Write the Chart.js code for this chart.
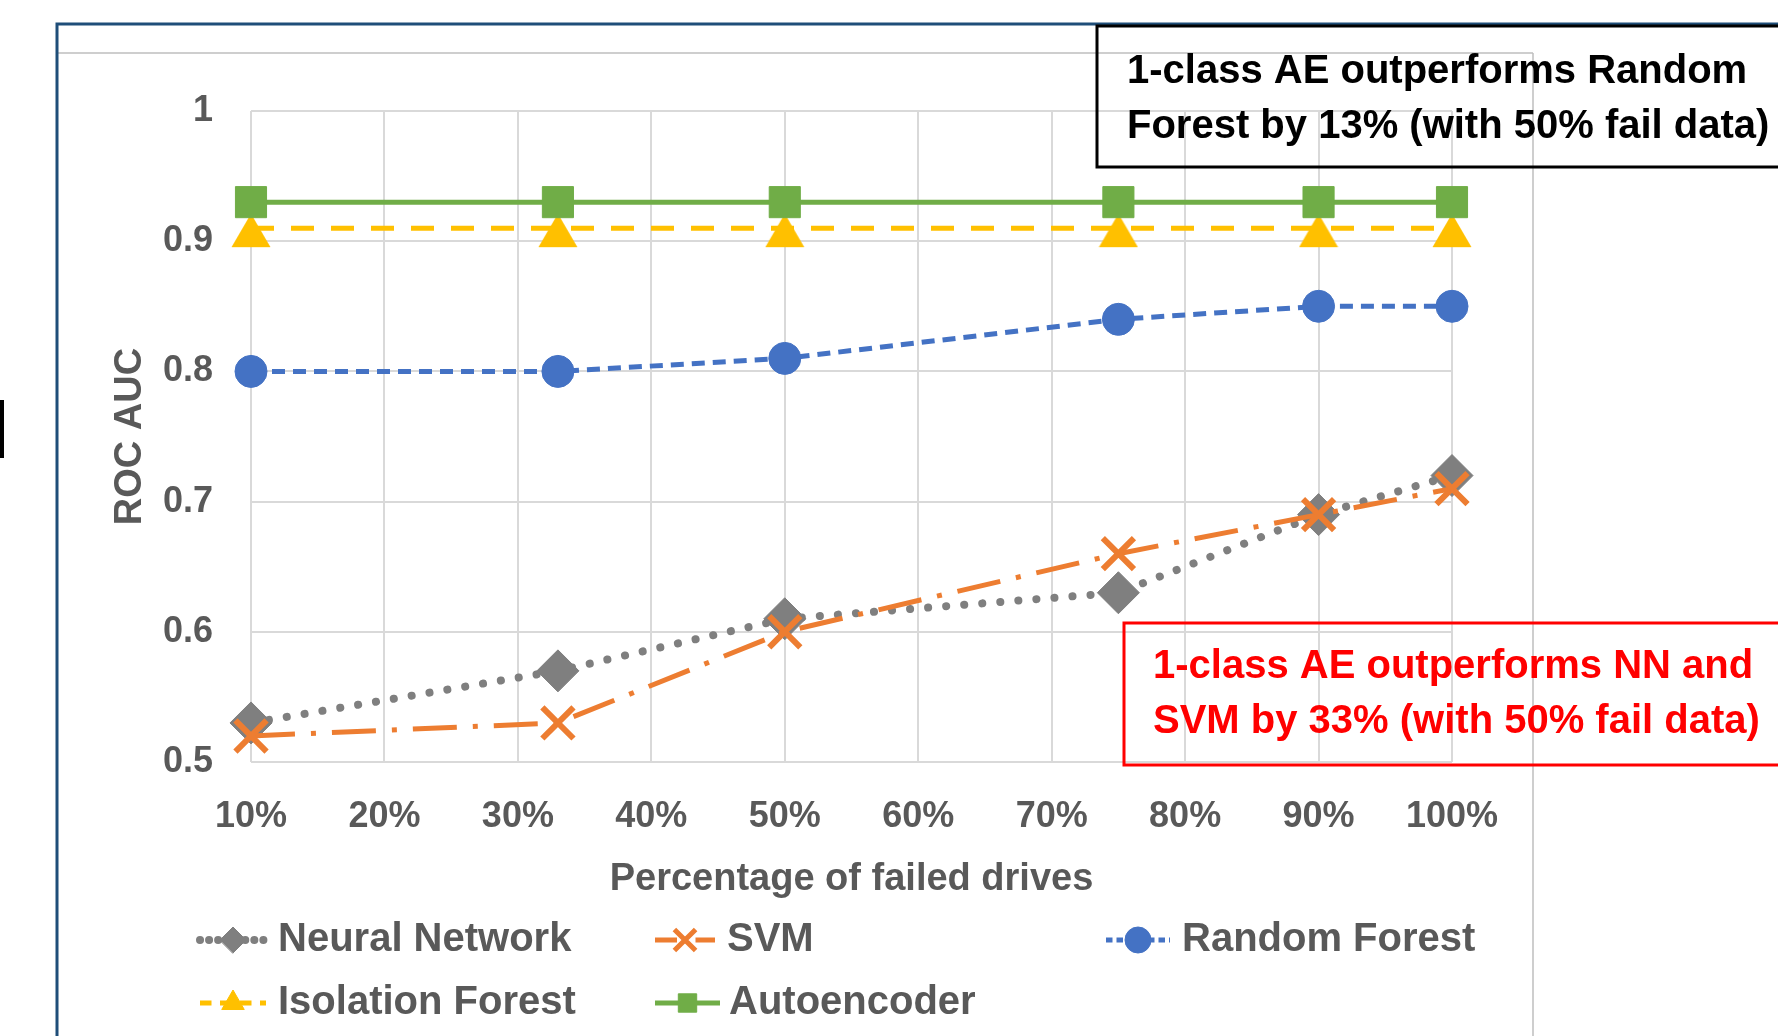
<!DOCTYPE html>
<html>
<head>
<meta charset="utf-8">
<script src="https://cdn.jsdelivr.net/npm/chart.js@4.4.0/dist/chart.umd.min.js"></script>
<style>
  html, body { margin: 0; padding: 0; background: #fff; overflow: hidden; }
</style>
</head>
<body>
<canvas id="chart" width="1778" height="1036"></canvas>
<script>
// values
const failedPct = [10, 33, 50, 75, 90, 100];
const neuralNetwork = [0.53, 0.57, 0.61, 0.63, 0.69, 0.72];
const svm = [0.52, 0.53, 0.60, 0.66, 0.69, 0.71];
const randomForest = [0.80, 0.80, 0.81, 0.84, 0.85, 0.85];
const isolationForest = [0.91, 0.91, 0.91, 0.91, 0.91, 0.91];
const autoencoder = [0.93, 0.93, 0.93, 0.93, 0.93, 0.93];
const xTicks = [10, 20, 30, 40, 50, 60, 70, 80, 90, 100];
const seriesNames = ['Neural Network', 'SVM', 'Random Forest', 'Isolation Forest', 'Autoencoder'];
const noteBlack = ['1-class AE outperforms Random', 'Forest by 13% (with 50% fail data)'];
const noteRed = ['1-class AE outperforms NN and', 'SVM by 33% (with 50% fail data)'];

const FONT = '"Liberation Sans", Arial, sans-serif';
const GREY = '#595959';

const pts = vals => failedPct.map((x, i) => ({ x, y: vals[i] }));

// Excel hangs its triangle marker below the line, so build it as an image
function hangingTriangle(color) {
  const c = document.createElement('canvas');
  c.width = 40;
  c.height = 40;
  const g = c.getContext('2d');
  g.fillStyle = color;
  g.beginPath();
  g.moveTo(20, 5.5);
  g.lineTo(39.5, 39);
  g.lineTo(0.5, 39);
  g.closePath();
  g.fill();
  return c;
}

function line(label, vals, color, extra) {
  return Object.assign({
    label,
    data: pts(vals),
    borderColor: color,
    backgroundColor: color,
    pointBackgroundColor: color,
    pointBorderColor: color,
    borderWidth: 5,
    pointBorderWidth: 1,
    tension: 0,
    clip: false
  }, extra);
}

const datasets = [
  line(seriesNames[0], neuralNetwork, '#7F7F7F', {
    borderWidth: 8, borderDash: [0.1, 18], borderCapStyle: 'round',
    pointStyle: 'rectRot', pointRadius: 21, order: 5
  }),
  line(seriesNames[1], svm, '#ED7D31', {
    borderDash: [44, 16, 5, 16],
    pointStyle: 'crossRot', pointRadius: 22, pointBorderWidth: 6, order: 4
  }),
  line(seriesNames[2], randomForest, '#4472C4', {
    borderDash: [13, 8],
    pointStyle: 'circle', pointRadius: 16, order: 3
  }),
  line(seriesNames[3], isolationForest, '#FFC000', {
    borderDash: [23, 17],
    pointStyle: hangingTriangle('#FFC000'), pointRadius: 22, order: 2
  }),
  line(seriesNames[4], autoencoder, '#70AD47', {
    pointStyle: 'rect', pointRadius: 22, order: 1
  })
];

// slide frame, annotation boxes and the legend
const decorations = {
  id: 'decorations',
  beforeDraw(chart) {
    const ctx = chart.ctx;
    ctx.save();
    ctx.fillStyle = '#fff';
    ctx.fillRect(0, 0, chart.width, chart.height);
    // chart area border (grey)
    ctx.strokeStyle = '#BFBFBF';
    ctx.lineWidth = 1.5;
    ctx.beginPath();
    ctx.moveTo(57, 53); ctx.lineTo(1533, 53);
    ctx.moveTo(1533, 53); ctx.lineTo(1533, 1036);
    ctx.stroke();
    // slide frame (blue)
    ctx.strokeStyle = '#1F4E79';
    ctx.lineWidth = 3;
    ctx.beginPath();
    ctx.moveTo(57, 1036); ctx.lineTo(57, 24); ctx.lineTo(1778, 24);
    ctx.stroke();
    ctx.fillStyle = '#000';
    ctx.fillRect(0, 400, 4, 58);
    ctx.restore();
  },
  afterDraw(chart) {
    const ctx = chart.ctx;
    ctx.save();

    // annotation boxes
    ctx.lineWidth = 3;
    ctx.strokeStyle = '#000';
    ctx.strokeRect(1097, 26, 720, 141);
    ctx.strokeStyle = '#FF0000';
    ctx.strokeRect(1124, 623, 720, 142);

    ctx.font = 'bold 40px ' + FONT;
    ctx.textBaseline = 'alphabetic';
    ctx.textAlign = 'left';
    ctx.fillStyle = '#000';
    noteBlack.forEach((t, i) => ctx.fillText(t, 1127, 83 + i * 55));
    ctx.fillStyle = '#FF0000';
    noteRed.forEach((t, i) => ctx.fillText(t, 1153, 678 + i * 55));

    // legend
    const slots = [
      { x0: 200, x1: 266, tx: 278, y: 940 },
      { x0: 655, x1: 715, tx: 727, y: 940 },
      { x0: 1106, x1: 1170, tx: 1182, y: 940 },
      { x0: 200, x1: 266, tx: 278, y: 1003 },
      { x0: 655, x1: 720, tx: 729, y: 1003 }
    ];
    chart.data.datasets.forEach((ds, i) => {
      const s = slots[i];
      ctx.save();
      ctx.strokeStyle = ds.borderColor;
      ctx.lineWidth = ds.borderWidth;
      ctx.lineCap = ds.borderCapStyle || 'butt';
      ctx.setLineDash(ds.borderDash ? ds.borderDash.map(v => v * 0.5) : []);
      ctx.beginPath();
      ctx.moveTo(s.x0, s.y);
      ctx.lineTo(s.x1, s.y);
      ctx.stroke();
      ctx.setLineDash([]);
      ctx.fillStyle = ds.backgroundColor;
      ctx.strokeStyle = ds.borderColor;
      const style = typeof ds.pointStyle === 'string' ? ds.pointStyle : 'triangle';
      ctx.lineWidth = style === 'crossRot' ? 5 : 1;
      Chart.helpers.drawPoint(ctx, {
        pointStyle: style,
        radius: style === 'crossRot' ? 15 : 13,
        rotation: 0,
        borderWidth: ctx.lineWidth
      }, (s.x0 + s.x1) / 2, s.y);
      ctx.restore();
      ctx.font = 'bold 40px ' + FONT;
      ctx.fillStyle = GREY;
      ctx.textBaseline = 'middle';
      ctx.fillText(ds.label, s.tx, s.y);
    });
    ctx.restore();
  }
};

new Chart(document.getElementById('chart'), {
  type: 'line',
  data: { datasets },
  options: {
    responsive: false,
    animation: false,
    layout: { padding: { left: 0, top: 111, right: 326, bottom: 0 } },
    plugins: {
      legend: { display: false },
      tooltip: { enabled: false }
    },
    scales: {
      x: {
        type: 'linear',
        min: 10,
        max: 100,
        afterBuildTicks: s => { s.ticks = xTicks.map(v => ({ value: v })); },
        afterFit: s => { s.height = 274; },
        ticks: {
          callback: v => v + '%',
          font: { family: FONT, size: 36, weight: 'bold' },
          color: GREY,
          padding: 33,
          maxRotation: 0,
          autoSkip: false
        },
        grid: { color: '#D9D9D9', lineWidth: 2, drawTicks: false },
        border: { display: false },
        title: {
          display: true,
          text: 'Percentage of failed drives',
          font: { family: FONT, size: 38, weight: 'bold' },
          color: GREY,
          padding: { top: 0, bottom: 134 }
        }
      },
      y: {
        min: 0.5,
        max: 1,
        afterFit: s => { s.width = 251; },
        ticks: {
          stepSize: 0.1,
          callback: v => String(+v.toFixed(1)),
          font: { family: FONT, size: 36, weight: 'bold' },
          color: GREY,
          padding: 38
        },
        grid: { color: '#D9D9D9', lineWidth: 2, drawTicks: false },
        border: { display: false },
        title: {
          display: true,
          text: 'ROC AUC',
          font: { family: FONT, size: 38, weight: 'bold' },
          color: GREY,
          padding: { top: 108, bottom: 0 }
        }
      }
    }
  },
  plugins: [decorations]
});
</script>
</body>
</html>
